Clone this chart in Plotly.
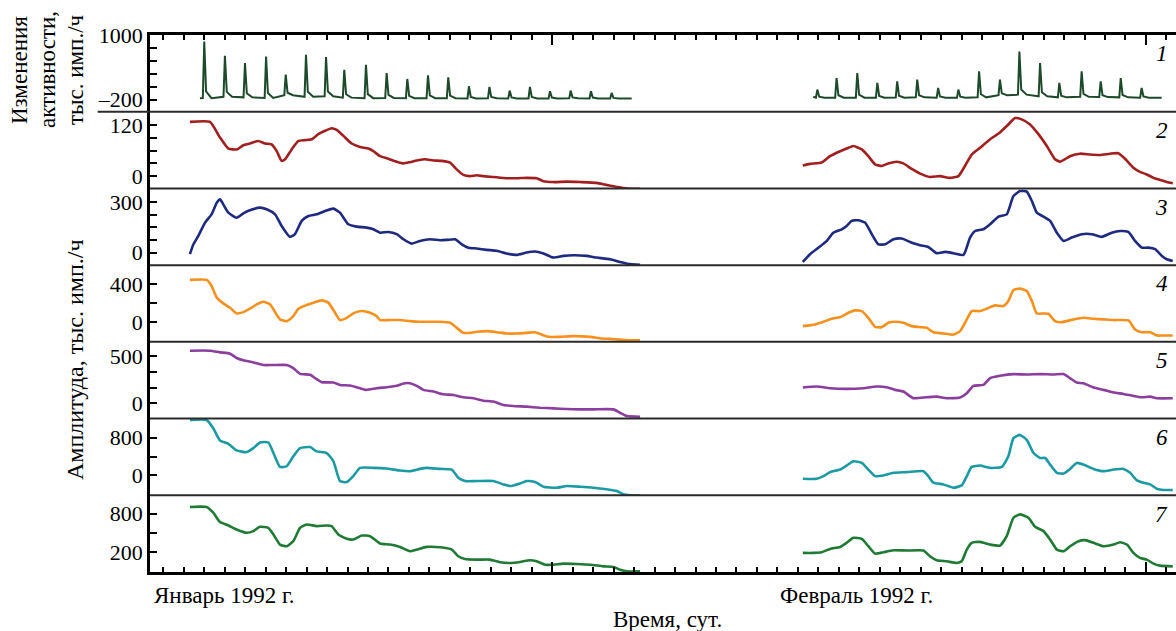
import plotly.graph_objects as go

FONT = "Liberation Serif"

# ---------------- data (x in days, values in thousand counts/h) ----------------
# panel 1: activity changes – daily spikes
act_jan_spike_day = [2.00, 3.01, 3.99, 5.02, 5.98, 6.97, 7.95, 8.84, 9.90, 10.91, 11.92,
                     12.93, 13.92, 14.93, 15.93, 16.92, 17.91, 18.89, 19.90, 20.89, 21.90]
act_jan_spike_peak = [877, 612, 477, 600, 262, 631, 588, 354, 446, 292, 182,
                      249, 212, 46, 34, -34, 34, -46, -34, -46, -77]
act_jan_base = [-175, -150, -160, -170, -120, -150, -140, -165, -175, -170, -175,
                -175, -175, -180, -178, -180, -180, -180, -178, -180, -182]
act_jan_start = [1.79, -178]
act_jan_end = [22.88, -180]

act_feb_spike_day = [31.95, 32.89, 33.90, 34.88, 35.85, 36.83, 37.85, 38.84, 39.85,
                     40.87, 41.82, 42.83, 43.77, 44.86, 45.79, 46.77, 47.79]
act_feb_spike_peak = [-15, 200, 292, 108, 138, 169, 15, -15, 323,
                      169, 692, 477, 108, 323, 138, 200, 15]
act_feb_base = [-165, -165, -165, -168, -165, -160, -165, -165, -160,
                -120, -110, -140, -160, -150, -155, -160, -165]
act_feb_start = [31.75, -150]
act_feb_end = [48.77, -165]

# panel 2
red_jan_x = [1.30, 2.28, 2.77, 3.18, 3.59, 3.91, 4.23, 4.64, 4.97, 5.29, 5.54, 5.78, 5.95, 6.27,
             6.60, 6.92, 7.25, 7.57, 7.90, 8.22, 8.47, 8.80, 9.20, 9.61, 10.02, 10.26, 10.59,
             10.99, 11.40, 11.73, 12.05, 12.38, 12.79, 13.19, 13.60, 14.01, 14.33, 14.66, 14.98,
             15.31, 15.64, 16.12, 16.77, 17.26, 17.75, 18.24, 18.57, 19.05, 19.71, 20.36, 21.17,
             21.58, 21.99, 22.47, 22.96, 23.29]
red_jan_y = [128, 128, 91, 65, 63, 73, 77, 83, 77, 75, 59, 36, 40, 63, 83, 85, 87, 99, 107, 113,
             109, 95, 77, 69, 65, 59, 47, 41, 34, 30, 33, 37, 40, 37, 36, 32, 16, 3, 0, 2, 0, -2,
             -5, -5, -4, -5, -12, -14, -13, -14, -16, -20, -24, -28, -30, -30]
red_feb_x = [31.24, 31.59, 32.16, 32.57, 32.98, 33.38, 33.71, 34.12, 34.44, 34.77, 35.09, 35.42,
             35.83, 36.15, 36.56, 36.97, 37.45, 37.94, 38.43, 38.84, 39.16, 39.49, 39.90, 40.39,
             40.87, 41.28, 41.61, 41.93, 42.34, 42.75, 43.16, 43.56, 43.81, 44.29, 44.78, 45.27,
             45.76, 46.25, 46.65, 46.98, 47.39, 47.71, 48.04, 48.37, 48.69, 49.02, 49.31]
red_feb_y = [25, 29, 32, 47, 57, 65, 71, 63, 47, 28, 24, 30, 34, 30, 17, 6, -2, 0, -4, 0, 24, 51,
             67, 87, 103, 122, 137, 134, 122, 99, 71, 40, 34, 47, 53, 51, 50, 53, 54, 41, 20, 10,
             4, -4, -9, -14, -17]

# panel 3
blue_jan_x = [1.30, 1.47, 1.71, 2.04, 2.36, 2.61, 2.77, 2.93, 3.18, 3.58, 3.91, 4.23, 4.72, 5.05,
              5.46, 5.78, 6.19, 6.43, 6.76, 7.09, 7.49, 7.90, 8.31, 8.63, 9.04, 9.45, 9.93, 10.26,
              10.59, 10.99, 11.40, 11.73, 12.13, 12.54, 13.03, 13.52, 13.84, 14.25, 14.58, 14.90,
              15.31, 15.80, 16.29, 16.77, 17.26, 17.75, 18.16, 18.57, 19.05, 19.54, 20.03, 20.68,
              21.17, 21.82, 22.31, 22.80, 23.29]
blue_jan_y = [-10, 49, 99, 178, 227, 296, 316, 286, 237, 207, 233, 251, 267, 257, 227, 158, 93,
              109, 188, 217, 227, 247, 261, 237, 168, 154, 148, 138, 118, 122, 109, 79, 53, 69, 79,
              73, 75, 79, 49, 29, 24, 16, 10, -6, -14, 0, 6, -6, -30, -20, -16, -20, -30, -40,
              -56, -69, -73]
blue_feb_x = [31.24, 31.59, 32.00, 32.41, 32.73, 33.14, 33.38, 33.63, 33.95, 34.28, 34.61, 34.93,
              35.26, 35.67, 36.07, 36.48, 36.97, 37.37, 37.78, 38.19, 38.60, 39.09, 39.41, 39.66,
              40.06, 40.39, 40.80, 41.20, 41.53, 41.85, 42.18, 42.43, 42.67, 43.00, 43.32, 43.65,
              43.98, 44.38, 44.87, 45.36, 45.84, 46.33, 46.74, 47.14, 47.47, 47.80, 48.12, 48.45,
              48.78, 49.02, 49.31]
blue_feb_y = [-56, -10, 29, 69, 118, 138, 158, 188, 192, 178, 109, 49, 49, 79, 83, 63, 43, 33, -4,
              4, -4, -14, 89, 128, 138, 168, 213, 227, 336, 365, 362, 306, 237, 213, 188, 118, 69,
              89, 109, 109, 93, 118, 128, 122, 69, 29, 29, 20, -20, -40, -50]

# panel 4
orange_jan_x = [1.30, 2.12, 2.36, 2.61, 2.93, 3.26, 3.58, 3.91, 4.23, 4.56, 4.89, 5.21, 5.46, 5.70,
                6.03, 6.35, 6.60, 7.00, 7.33, 7.74, 8.06, 8.39, 8.63, 8.96, 9.28, 9.69, 10.10,
                10.42, 10.59, 11.07, 11.56, 12.05, 12.54, 13.03, 13.52, 14.01, 14.33, 14.66, 14.98,
                15.31, 15.80, 16.29, 16.77, 17.26, 17.75, 18.16, 18.48, 18.81, 19.38, 20.03, 20.85,
                21.41, 21.82, 22.31, 22.80, 23.29]
orange_jan_y = [446, 446, 382, 259, 198, 152, 92, 106, 142, 188, 216, 188, 106, 29, 11, 64, 142,
                181, 206, 230, 206, 99, 22, 46, 92, 117, 99, 64, 22, 22, 22, 11, 4, 4, 4, -7, -60,
                -113, -113, -102, -95, -106, -120, -120, -113, -106, -131, -155, -155, -148, -155,
                -173, -177, -184, -191, -191]
orange_feb_x = [31.24, 31.84, 32.25, 32.65, 33.06, 33.47, 33.79, 34.12, 34.44, 34.77, 35.09, 35.42,
                35.75, 36.15, 36.56, 36.97, 37.29, 37.62, 38.11, 38.60, 38.92, 39.25, 39.49, 39.90,
                40.22, 40.63, 41.04, 41.28, 41.53, 41.85, 42.18, 42.43, 42.67, 43.00, 43.24, 43.56,
                43.89, 44.46, 44.95, 45.44, 45.93, 46.42, 47.15, 47.47, 47.80, 48.21, 48.53, 48.86,
                49.31]
orange_feb_y = [-42, -24, 4, 36, 53, 99, 124, 117, 46, -49, -53, -7, 4, -7, -42, -53, -60, -106,
                -120, -131, -95, 29, 117, 117, 142, 177, 170, 223, 340, 354, 329, 223, 92, 92, 89,
                11, 0, 29, 46, 36, 29, 22, 18, -78, -106, -106, -141, -141, -141]

# panel 5
purple_jan_x = [1.30, 2.28, 2.77, 3.26, 3.58, 3.91, 4.40, 4.89, 5.37, 6.03, 6.35, 6.68, 7.17, 7.49,
                7.74, 8.31, 8.63, 9.12, 9.61, 9.93, 10.42, 10.91, 11.40, 11.73, 12.05, 12.38,
                12.70, 13.19, 13.68, 14.17, 14.66, 15.15, 15.63, 16.12, 16.61, 17.10, 17.75, 18.40,
                19.05, 19.71, 20.36, 21.01, 21.99, 22.31, 22.64, 23.29]
purple_jan_y = [561, 561, 543, 529, 483, 458, 436, 408, 408, 408, 375, 314, 304, 257, 225, 221,
                196, 189, 161, 143, 161, 171, 186, 211, 214, 186, 143, 125, 96, 89, 64, 54, 28, 18,
                -18, -29, -36, -47, -54, -61, -65, -65, -65, -101, -136, -143]
purple_feb_x = [31.24, 31.92, 32.57, 33.38, 34.20, 34.85, 35.34, 35.75, 36.15, 36.64, 37.29, 37.78,
                38.27, 38.92, 39.25, 39.57, 40.06, 40.39, 40.87, 41.53, 42.18, 42.83, 43.48, 43.97,
                44.29, 44.62, 44.95, 45.44, 45.93, 46.42, 46.91, 47.39, 47.80, 48.21, 48.53, 49.31]
purple_feb_y = [168, 179, 161, 154, 161, 179, 171, 143, 125, 54, 64, 71, 54, 61, 107, 186, 196,
                268, 293, 311, 307, 311, 307, 311, 268, 221, 214, 168, 143, 114, 100, 78, 64, 71,
                54, 54]

# panel 6
teal_jan_x = [1.30, 2.12, 2.44, 2.77, 3.18, 3.58, 4.07, 4.40, 4.72, 5.13, 5.38, 5.70, 6.03, 6.35,
              6.68, 7.17, 7.49, 7.98, 8.31, 8.63, 8.96, 9.28, 9.61, 10.26, 10.91, 11.56, 12.05,
              12.54, 12.87, 13.52, 14.09, 14.41, 14.74, 15.31, 16.12, 16.61, 16.94, 17.43, 17.75,
              18.16, 18.57, 19.22, 19.71, 20.36, 21.01, 21.66, 22.15, 22.47, 22.80, 23.29]
teal_jan_y = [1170, 1170, 996, 738, 668, 529, 494, 578, 696, 696, 474, 181, 195, 404, 578, 599,
              508, 474, 299, -118, -139, -14, 160, 160, 146, 104, 91, 139, 160, 139, 125, -49,
              -118, -118, -118, -188, -223, -167, -118, -139, -237, -258, -223, -237, -258, -292,
              -327, -397, -418, -418]
teal_feb_x = [31.24, 31.92, 32.25, 32.57, 33.06, 33.38, 33.71, 34.12, 34.44, 34.77, 35.17, 35.66,
              36.32, 37.13, 37.37, 37.62, 38.11, 38.60, 39.00, 39.25, 39.49, 39.90, 40.39, 40.96,
              41.28, 41.53, 41.85, 42.18, 42.51, 42.83, 43.08, 43.32, 43.65, 43.98, 44.30, 44.62,
              44.95, 45.44, 45.93, 46.42, 46.91, 47.23, 47.56, 47.88, 48.21, 48.53, 48.86, 49.31]
teal_feb_y = [-70, -70, -14, 70, 125, 209, 299, 265, 125, -14, 0, 56, 70, 91, -14, -153, -188,
              -258, -209, -14, 181, 209, 160, 181, 404, 787, 856, 752, 474, 369, 369, 230, 56, 42,
              139, 265, 230, 139, 91, 125, 139, 56, -104, -153, -188, -279, -306, -306]

# panel 7
green_jan_x = [1.30, 2.12, 2.44, 2.77, 3.18, 3.58, 4.07, 4.40, 4.72, 5.13, 5.38, 5.70, 6.03, 6.35,
               6.68, 7.00, 7.49, 7.98, 8.22, 8.55, 8.96, 9.28, 9.69, 10.10, 10.59, 11.07, 11.56,
               12.05, 12.38, 12.87, 13.52, 14.09, 14.41, 14.74, 15.31, 15.96, 16.45, 16.94, 17.43,
               17.91, 18.24, 18.65, 19.05, 19.54, 20.19, 20.85, 21.50, 21.99, 22.31, 22.64, 23.29]
green_jan_y = [905, 905, 815, 668, 615, 552, 500, 526, 594, 578, 473, 315, 289, 368, 578, 631,
               605, 615, 605, 473, 405, 394, 457, 447, 331, 315, 278, 210, 236, 278, 273, 236, 131,
               89, 78, 78, 36, 26, 42, 68, 52, -1, -1, 15, 10, -1, -27, -37, -79, -106, -106]
green_feb_x = [31.24, 31.76, 32.16, 32.57, 33.06, 33.38, 33.71, 34.12, 34.44, 34.77, 35.17, 35.66,
               36.32, 37.13, 37.45, 37.78, 38.27, 38.76, 39.00, 39.25, 39.49, 39.90, 40.39, 40.87,
               41.20, 41.53, 41.85, 42.26, 42.59, 43.00, 43.32, 43.65, 43.98, 44.30, 44.71, 45.03,
               45.44, 45.93, 46.42, 46.74, 47.07, 47.39, 47.71, 48.04, 48.37, 48.69, 49.31]
green_feb_y = [184, 184, 194, 247, 278, 342, 421, 405, 289, 173, 194, 226, 221, 221, 131, 68, 52,
               26, 52, 236, 342, 357, 315, 299, 447, 736, 789, 736, 594, 526, 394, 236, 210, 289,
               368, 384, 342, 289, 315, 352, 315, 184, 105, 78, 15, -16, -27]

# axis settings per panel: (range, tick values, tick labels)
panel_ranges = [[-427, 1000], [-29, 152], [-75, 381], [-208, 602], [-163, 655], [-418, 1201], [-116, 1089]]
panel_tickvals = [[-200, 40, 280, 520, 760, 1000], [0, 30, 60, 90, 120], [0, 75, 150, 225, 300],
                  [0, 200, 400], [0, 166.7, 333.3, 500], [0, 400, 800], [200, 500, 800]]
panel_ticktext = [["\u2013200", "", "", "", "", "1000"], ["0", "", "", "", "120"], ["0", "", "", "", "300"],
                  ["0", "", "400"], ["0", "", "", "500"], ["0", "", "800"], ["200", "", "800"]]
panel_labels = ["1", "2", "3", "4", "5", "6", "7"]
colors = ["#1c4a2a", "#a11f1f", "#1e2a80", "#f7901c", "#8b3e9e", "#1c9aa3", "#1f7a34"]
x_major_ticks = [19, 48]
x_range = [-0.65, 49.47]
top_title_lines = ["Изменения", "активности,", "тыс. имп./ч"]


def spikes(start, end, days, peaks, bases):
    xs, ys = [start[0]], [start[1]]
    for d, p, b in zip(days, peaks, bases):
        xs += [d - 0.07, d, d + 0.09, d + 0.35]
        ys += [b, p, b + (p - b) * 0.12, b]
    xs.append(end[0])
    ys.append(end[1])
    return xs, ys


act_jan_x, act_jan_y = spikes(act_jan_start, act_jan_end, act_jan_spike_day, act_jan_spike_peak, act_jan_base)
act_feb_x, act_feb_y = spikes(act_feb_start, act_feb_end, act_feb_spike_day, act_feb_spike_peak, act_feb_base)

series = [
    (act_jan_x, act_jan_y, act_feb_x, act_feb_y),
    (red_jan_x, red_jan_y, red_feb_x, red_feb_y),
    (blue_jan_x, blue_jan_y, blue_feb_x, blue_feb_y),
    (orange_jan_x, orange_jan_y, orange_feb_x, orange_feb_y),
    (purple_jan_x, purple_jan_y, purple_feb_x, purple_feb_y),
    (teal_jan_x, teal_jan_y, teal_feb_x, teal_feb_y),
    (green_jan_x, green_jan_y, green_feb_x, green_feb_y),
]

fig = go.Figure()
n = 7
for i, (jx, jy, fx, fy) in enumerate(series):
    yname = "y" if i == 0 else f"y{i + 1}"
    if i == 0:
        line = dict(color=colors[i], width=2.0)
    else:
        line = dict(color=colors[i], width=2.6, shape="spline", smoothing=0.5)
    for xs, ys in ((jx, jy), (fx, fy)):
        fig.add_trace(go.Scatter(x=xs, y=ys, mode="lines", xaxis="x", yaxis=yname, line=line,
                                 showlegend=False, hoverinfo="skip"))

# helper trace so that the top (mirror) time axis is drawn
fig.add_trace(go.Scatter(x=x_range, y=[None, None], mode="lines", xaxis="x2", yaxis="y",
                         showlegend=False, hoverinfo="skip"))

layout = dict(
    width=1176, height=631,
    margin=dict(l=150, r=0, t=35, b=59),
    paper_bgcolor="white", plot_bgcolor="white",
    font=dict(family=FONT, size=22, color="black"),
    showlegend=False,
)

axis_common = dict(range=x_range, tickvals=x_major_ticks, ticks="inside", ticklen=10, tickwidth=2,
                   tickcolor="black", showticklabels=False, showline=True, linewidth=2.5,
                   linecolor="black", showgrid=False, zeroline=False,
                   minor=dict(dtick=1, tick0=0, ticks="inside", ticklen=5, tickwidth=1.5,
                              tickcolor="black", showgrid=False))
layout["xaxis"] = dict(domain=[0, 1], anchor=f"y{n}", **axis_common)
layout["xaxis2"] = dict(overlaying="x", anchor="y", side="top", **axis_common)

for i in range(n):
    key = "yaxis" if i == 0 else f"yaxis{i + 1}"
    layout[key] = dict(domain=[1 - (i + 1) / n, 1 - i / n], anchor="x", range=panel_ranges[i],
                       tickvals=panel_tickvals[i], ticktext=panel_ticktext[i],
                       ticks="inside", ticklen=7, tickwidth=2, tickcolor="black",
                       showline=True, linewidth=2.5, linecolor="black",
                       showgrid=False, zeroline=False,
                       tickfont=dict(family=FONT, size=22, color="black"))

shapes = []
for k in range(1, n):
    yy = 1 - k / n
    x0 = -0.051 if k == 1 else 0
    shapes.append(dict(type="line", xref="paper", yref="paper", x0=x0, x1=1, y0=yy, y1=yy,
                       line=dict(color="#2a2a2a", width=2)))
layout["shapes"] = shapes

ann = []
for i, lab in enumerate(panel_labels):
    ann.append(dict(text="<i>" + lab + "</i>", xref="paper", yref="paper", x=0.994,
                    y=1 - i / n - 0.008, xanchor="right", yanchor="top", showarrow=False,
                    font=dict(family=FONT, size=23, color="black")))

for px, txt in zip([19, 47, 75], top_title_lines):
    ann.append(dict(text=txt, xref="paper", yref="paper",
                    x=(px - 150) / 1026, y=(572 - 70) / 537, xanchor="center", yanchor="middle",
                    textangle=-90, showarrow=False, font=dict(family=FONT, size=23, color="black")))
ann.append(dict(text="Амплитуда, тыс. имп./ч", xref="paper", yref="paper",
                x=(75 - 150) / 1026, y=(572 - 360) / 537, xanchor="center", yanchor="middle",
                textangle=-90, showarrow=False, font=dict(family=FONT, size=24, color="black")))
ann.append(dict(text="Январь 1992 г.", xref="paper", yref="paper", x=(224 - 150) / 1026,
                y=(572 - 595) / 537, xanchor="center", yanchor="middle", showarrow=False,
                font=dict(family=FONT, size=23, color="black")))
ann.append(dict(text="Февраль 1992 г.", xref="paper", yref="paper", x=(856 - 150) / 1026,
                y=(572 - 595) / 537, xanchor="center", yanchor="middle", showarrow=False,
                font=dict(family=FONT, size=23, color="black")))
ann.append(dict(text="Время, сут.", xref="paper", yref="paper", x=(667 - 150) / 1026,
                y=(572 - 619) / 537, xanchor="center", yanchor="middle", showarrow=False,
                font=dict(family=FONT, size=23, color="black")))
layout["annotations"] = ann

fig.update_layout(**layout)
fig.write_html("out.html", config={"displayModeBar": False},
               post_script="document.body.style.margin='0';document.body.style.overflow='hidden';")
